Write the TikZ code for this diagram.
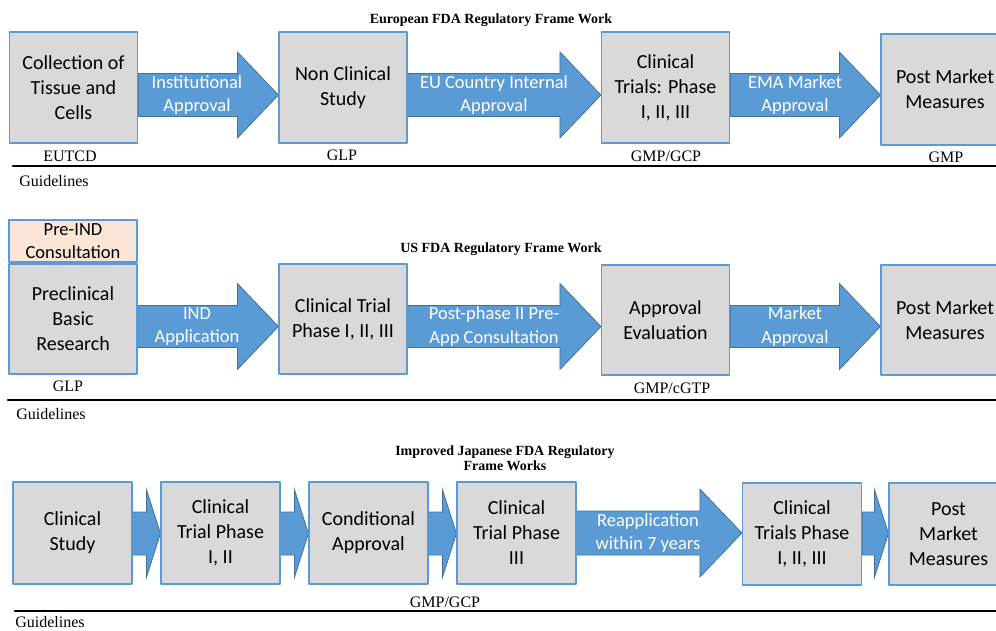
\documentclass[tikz,border=0pt]{standalone}
\usepackage{fontspec}
\setmainfont{Liberation Serif}
\newfontfamily\calibri{Carlito}
\usetikzlibrary{calc,backgrounds}
\definecolor{boxgray}{HTML}{D9D9D9}
\definecolor{boxblue}{HTML}{5B9BD5}
\definecolor{arrowblue}{HTML}{5B9BD5}
\definecolor{arrowedge}{HTML}{41719C}
\definecolor{peach}{HTML}{FBE5D6}
\tikzset{
  stage/.style={draw=boxblue,line width=1.2pt,fill=boxgray,align=center,inner sep=0pt,
    font=\calibri\fontsize{20}{25}\selectfont,minimum width=128pt,minimum height=111pt},
  jstage/.style={stage,minimum width=119pt,minimum height=102pt},
  arrowlabel/.style={text=white,align=center,inner sep=0pt,font=\calibri\fontsize{18.5}{23.5}\selectfont},
  guide/.style={font=\fontsize{16}{19}\selectfont,inner sep=0pt},
  frametitle/.style={font=\bfseries\fontsize{14}{15}\selectfont,align=center,inner sep=0pt},
  guideline/.style={line width=2.6pt,black},
  arrowshape/.style={fill=arrowblue,draw=arrowedge,line width=0.8pt}
}
% block arrow: from, to, level, body half, head half, head length
\newcommand{\flowarrow}[6]{%
  \begin{pgfonlayer}{background}
  \path[arrowshape] let \p1=(#1.east |- #3), \p2=(#2.west |- #3) in
    (\x1,\y1+#4pt) -- (\x2-#6pt,\y1+#4pt) -- (\x2-#6pt,\y1+#5pt) -- (\x2,\y1)
    -- (\x2-#6pt,\y1-#5pt) -- (\x2-#6pt,\y1-#4pt) -- (\x1,\y1-#4pt) -- cycle;
  \end{pgfonlayer}}

\begin{document}
\begin{tikzpicture}[line cap=round,line join=round,x=1pt,y=-1pt]
	\useasboundingbox (0,0) rectangle (996,631);
	\clip (0,0) rectangle (996,631);
	% European
	\node[frametitle] (eutitle) at (491,20) {European FDA Regulatory Frame Work};
	\node[stage] (eu1) at (73.5,87.5) {Collection of\\Tissue and\\Cells};
	\node[stage] (eu2) at (343,87.5) {Non Clinical\\Study};
	\node[stage] (eu3) at (665.5,87.5) {Clinical\\Trials: Phase\\I, II, III};
	\node[stage] (eu4) at (945,89.5) {Post Market\\Measures};
	\node[arrowlabel] (eua1) at (197,95) {Institutional\\Approval};
	\node[arrowlabel] (eua2) at (494,95) {EU Country Internal\\Approval};
	\node[arrowlabel] (eua3) at (795,95) {EMA Market\\Approval};
	\flowarrow{eu1}{eu2}{eua1}{21.5}{43}{41}
	\flowarrow{eu2}{eu3}{eua2}{21.5}{43}{41}
	\flowarrow{eu3}{eu4}{eua3}{21.5}{43}{41}
	\node[guide] (eug1) at (70,156) {EUTCD};
	\node[guide] (eug2) at (342,155) {GLP};
	\node[guide] (eug3) at (666,156) {GMP/GCP};
	\node[guide] (eug4) at (946,157) {GMP};
	\draw[guideline] (13,166) -- (996,166);
	\node[guide] (eugl) at (54,181) {Guidelines};

	% US
	\node[frametitle] (ustitle) at (501,249) {US FDA Regulatory Frame Work};
	\node[stage,fill=peach,minimum height=42pt,font=\calibri\fontsize{18.5}{23}\selectfont] (us0) at (73,241) {Pre-IND\\Consultation};
	\node[stage,minimum height=110pt] (us1) at (73,319) {Preclinical\\Basic\\Research};
	\node[stage,minimum height=110pt] (us2) at (343,319) {Clinical Trial\\Phase I, II, III};
	\node[stage,minimum height=110pt] (us3) at (665.5,320) {Approval\\Evaluation};
	\node[stage,minimum height=110pt] (us4) at (945,320) {Post Market\\Measures};
	\node[arrowlabel] (usa1) at (197,326.5) {IND\\Application};
	\node[arrowlabel] (usa2) at (494,326.5) {Post-phase II Pre-\\App Consultation};
	\node[arrowlabel] (usa3) at (795,326.5) {Market\\Approval};
	\flowarrow{us1}{us2}{usa1}{21}{43}{41}
	\flowarrow{us2}{us3}{usa2}{21}{43}{41}
	\flowarrow{us3}{us4}{usa3}{21}{43}{41}
	\node[guide] (usg1) at (68,386) {GLP};
	\node[guide] (usg3) at (672,388) {GMP/cGTP};
	\draw[guideline] (8,400) -- (996,400);
	\node[guide] (usgl) at (51,414) {Guidelines};

	% Japanese
	\node[frametitle] (jptitle) at (505,458.5) {Improved Japanese FDA Regulatory\\Frame Works};
	\coordinate (jrow) at (0,533.5);
	\node[jstage] (jp1) at (72.5,533) {Clinical\\Study};
	\node[jstage] (jp2) at (220.5,533) {Clinical\\Trial Phase\\I, II};
	\node[jstage] (jp3) at (368.5,533) {Conditional\\Approval};
	\node[jstage] (jp4) at (516.5,533) {Clinical\\Trial Phase\\III};
	\node[jstage] (jp5) at (802,534) {Clinical\\Trials Phase\\I, II, III};
	\node[jstage] (jp6) at (948.5,534) {Post\\Market\\Measures};
	\node[arrowlabel] (jpa4) at (648,533) {Reapplication\\within 7 years};
	\flowarrow{jp1}{jp2}{jrow}{21.5}{44}{14}
	\flowarrow{jp2}{jp3}{jrow}{21.5}{44}{14}
	\flowarrow{jp3}{jp4}{jrow}{21.5}{44}{14}
	\flowarrow{jp4}{jp5}{jpa4}{22}{44}{42}
	\flowarrow{jp5}{jp6}{jrow}{21.5}{44}{14}
	\node[guide] (jpg3) at (445,602) {GMP/GCP};
	\draw[guideline] (15,611) -- (996,611);
	\node[guide] (jpgl) at (50,622) {Guidelines};
\end{tikzpicture}
\end{document}
